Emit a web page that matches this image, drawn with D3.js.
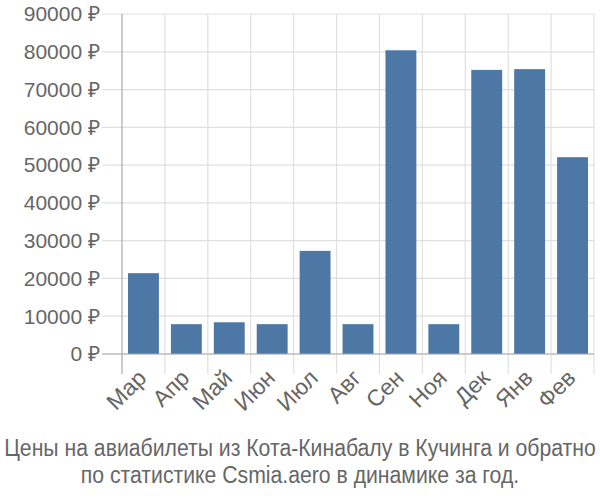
<!DOCTYPE html>
<html><head><meta charset="utf-8">
<script src="https://cdn.jsdelivr.net/npm/d3@7"></script>
<style>body{margin:0;background:#fff}svg{display:block}</style>
</head><body>
<svg id="c" width="600" height="500"></svg>
<script>
const categories = ["Мар","Апр","Май","Июн","Июл","Авг","Сен","Ноя","Дек","Янв","Фев"];
const values = [21400, 7900, 8400, 7900, 27300, 7900, 80400, 7900, 75200, 75400, 52100];
const yTicks = [0,10000,20000,30000,40000,50000,60000,70000,80000,90000];
const titleLines = ["Цены на авиабилеты из Кота-Кинабалу в Кучинга и обратно","по статистике Csmia.aero в динамике за год."];

const svg = d3.select("#c");
const mLeft = 122, mRight = 594, mTop = 14, mBottom = 354;
const font = "Liberation Sans, Arial, sans-serif";
const x = d3.scaleBand().domain(categories).range([mLeft, mRight]).paddingInner(0.28).paddingOuter(0.14);
const y = d3.scaleLinear().domain([0, 90000]).range([mBottom, mTop]);

svg.append("g").selectAll("line").data(yTicks).join("line")
  .attr("x1", mLeft - 20).attr("x2", mRight).attr("y1", d => y(d)).attr("y2", d => y(d))
  .attr("stroke", "#e0e0e0").attr("stroke-width", 1.2);
const bounds = d3.range(categories.length + 1).map(i => mLeft + i * (mRight - mLeft) / categories.length);
svg.append("g").selectAll("line").data(bounds.slice(1)).join("line")
  .attr("x1", d => d).attr("x2", d => d).attr("y1", mTop).attr("y2", mBottom + 20)
  .attr("stroke", "#e0e0e0").attr("stroke-width", 1.2);

svg.append("g").selectAll("rect").data(values).join("rect")
  .attr("x", (d, i) => x(categories[i])).attr("width", x.bandwidth())
  .attr("y", d => y(d)).attr("height", d => y(0) - y(d))
  .attr("fill", "#4d78a6");

svg.append("line").attr("x1", mLeft).attr("x2", mLeft).attr("y1", mTop).attr("y2", mBottom + 20)
  .attr("stroke", "#aaa").attr("stroke-width", 1.2);
svg.append("line").attr("x1", mLeft - 20).attr("x2", mRight).attr("y1", mBottom).attr("y2", mBottom)
  .attr("stroke", "#aaa").attr("stroke-width", 1.2);

svg.append("g").selectAll("text").data(yTicks).join("text")
  .attr("x", 100).attr("y", d => y(d)).attr("dy", "0.35em")
  .attr("text-anchor", "end").attr("font-family", font).attr("font-size", 21).attr("fill", "#666")
  .text(d => d + " ₽");

svg.append("g").selectAll("text").data(categories).join("text")
  .attr("text-anchor", "end").attr("font-family", font).attr("font-size", 23).attr("fill", "#666")
  .attr("transform", d => `translate(${x(d) + x.bandwidth()/2 - 7},${mBottom + 14}) rotate(-45)`)
  .attr("dy", "0.7em")
  .text(d => d);

// title: fit first line to 592px width, then stretch vertically to 23px-equivalent height
const tt = svg.append("g").selectAll("text").data(titleLines).join("text")
  .attr("text-anchor", "middle").attr("font-family", font).attr("font-size", 23).attr("fill", "#666")
  .text(d => d);
const w0 = tt.nodes()[0].getComputedTextLength();
const fs = 23 * 592 / w0;
const k = 23 / fs;
tt.attr("font-size", fs)
  .attr("transform", (d, i) => `translate(300,${456 + i * 27}) scale(1,${k})`);
</script>
</body></html>
